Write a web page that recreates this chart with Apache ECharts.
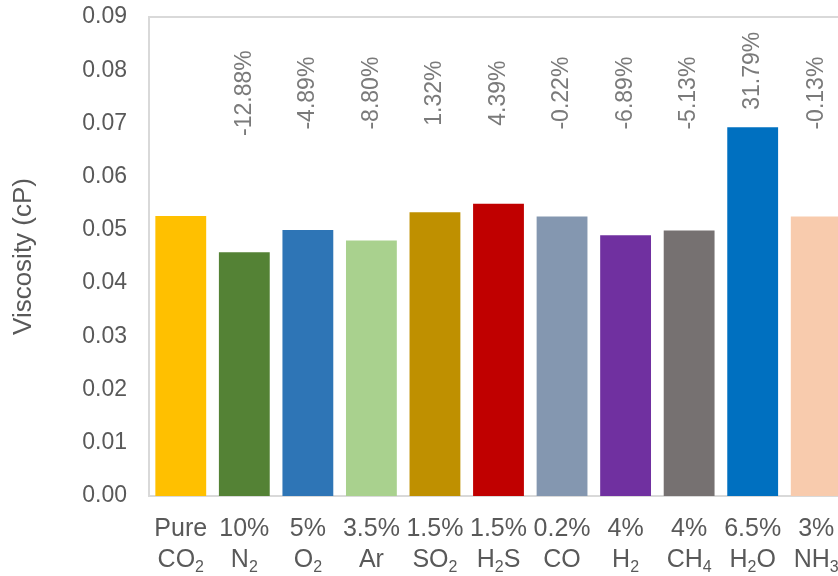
<!DOCTYPE html>
<html>
<head>
<meta charset="utf-8">
<script src="https://cdn.jsdelivr.net/npm/echarts@6/dist/echarts.min.js"></script>
<style>
  html, body { margin: 0; padding: 0; background: #fff; }
  #chart { width: 838px; height: 576px; }
</style>
</head>
<body>
<div id="chart"></div>
<script>
// gas mixture labels, {s|..} marks a subscript
const categories = [
  "Pure\nCO{s|2}", "10%\nN{s|2}", "5%\nO{s|2}", "3.5%\nAr", "1.5%\nSO{s|2}",
  "1.5%\nH{s|2}S", "0.2%\nCO", "4%\nH{s|2}", "4%\nCH{s|4}", "6.5%\nH{s|2}O", "3%\nNH{s|3}"
];
const viscosity = [0.0526, 0.0458, 0.0500, 0.0480, 0.0533, 0.0549, 0.0525, 0.0490, 0.0499, 0.0693, 0.0525];
const changeText = ["", "-12.88%", "-4.89%", "-8.80%", "1.32%", "4.39%", "-0.22%", "-6.89%", "-5.13%", "31.79%", "-0.13%"];
const barColors = [
  "#FFC000", "#548235", "#2E75B6", "#A9D18E", "#BF9000", "#C00000",
  "#8497B0", "#7030A0", "#767171", "#0070C0", "#F8CBAD"
];

const textColor = "#595959";
const font = "Liberation Sans, Arial, sans-serif";

// labels sit at a common height, or just above a tall bar
const labelLevel = 0.0757;
const labelAnchor = viscosity.map((v) => Math.max(labelLevel, v + 0.0106));

const chart = echarts.init(document.getElementById("chart"));

chart.setOption({
  animation: false,
  grid: {
    left: 149,
    top: 17,
    width: 699, // plot runs past the right edge, last bar is clipped
    bottom: 80,
    outerBoundsMode: "none",
    containLabel: false,
    show: true,
    borderColor: "#D9D9D9",
    borderWidth: 2,
  },
  xAxis: {
    type: "category",
    data: categories,
    axisLine: { show: true, lineStyle: { color: "#D9D9D9", width: 2 } },
    axisTick: { show: false },
    axisLabel: {
      interval: 0,
      margin: 18,
      color: textColor,
      fontFamily: font,
      fontSize: 25,
      lineHeight: 31,
      rich: {
        s: { fontSize: 16, lineHeight: 11, verticalAlign: "bottom", color: textColor, fontFamily: font },
      },
    },
  },
  yAxis: {
    type: "value",
    min: 0,
    max: 0.09,
    interval: 0.01,
    name: "Viscosity (cP)",
    nameLocation: "middle",
    nameRotate: 90,
    nameGap: 112,
    nameTextStyle: { color: textColor, fontFamily: font, fontSize: 26 },
    axisLine: { show: false },
    axisTick: { show: false },
    splitLine: { show: false },
    axisLabel: {
      margin: 22,
      color: textColor,
      fontFamily: font,
      fontSize: 23,
      formatter: (v) => v.toFixed(2),
    },
  },
  series: [
    {
      type: "bar",
      barCategoryGap: "20%",
      data: viscosity.map((v, i) => ({ value: v, itemStyle: { color: barColors[i] } })),
    },
    {
      // invisible points that carry the percentage labels
      type: "scatter",
      silent: true,
      symbolSize: 1,
      itemStyle: { color: "rgba(0,0,0,0)" },
      data: labelAnchor,
      label: {
        show: true,
        position: "inside",
        rotate: 90,
        color: textColor,
        fontFamily: font,
        fontSize: 23,
        formatter: (p) => changeText[p.dataIndex],
      },
    },
  ],
});
</script>
</body>
</html>
